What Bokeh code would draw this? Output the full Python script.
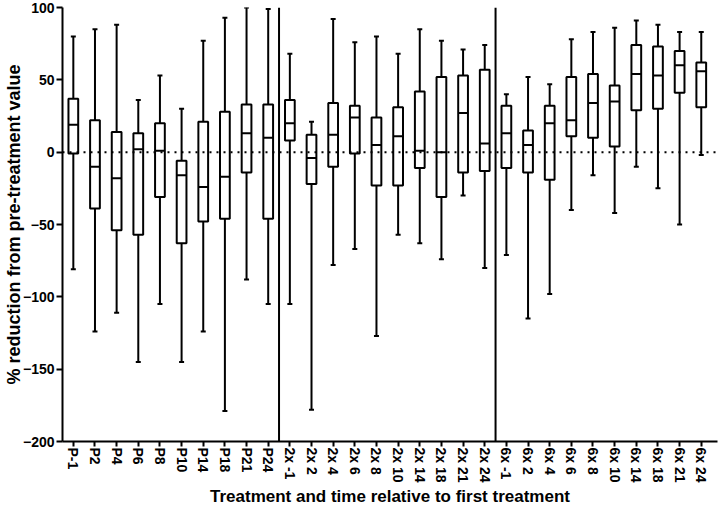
from bokeh.plotting import figure
from bokeh.models import Range1d, FixedTicker, Span, ColumnDataSource
from bokeh.embed import file_html
from bokeh.resources import INLINE

categories = ["P-1", "P2", "P4", "P6", "P8", "P10", "P14", "P18", "P21", "P24",
              "2x -1", "2x 2", "2x 4", "2x 6", "2x 8", "2x 10", "2x 14", "2x 18", "2x 21", "2x 24",
              "6x -1", "6x 2", "6x 4", "6x 6", "6x 8", "6x 10", "6x 14", "6x 18", "6x 21", "6x 24"]
group_sizes = [10, 10, 10]

whisker_high = [80, 85, 88, 36, 53, 30, 77, 93, 100, 99,
                68, 21, 92, 76, 80, 68, 85, 77, 71, 74,
                40, 52, 47, 78, 83, 86, 91, 88, 83, 83]
quartile3 = [37, 22, 14, 13, 20, -6, 21, 28, 33, 33,
             36, 12, 34, 32, 24, 31, 42, 52, 53, 57,
             32, 15, 32, 52, 54, 46, 74, 73, 70, 62]
medians = [19, -10, -18, 2, 1, -16, -24, -17, 13, 10,
           20, -4, 12, 24, 5, 11, 1, 0, 27, 6,
           13, 5, 20, 22, 34, 35, 54, 53, 60, 56]
quartile1 = [-1, -39, -54, -57, -31, -63, -48, -46, -14, -46,
             8, -22, -10, -1, -23, -23, -11, -31, -14, -13,
             -11, -14, -19, 11, 10, 4, 29, 30, 41, 31]
whisker_low = [-81, -124, -111, -145, -105, -145, -124, -179, -88, -105,
               -105, -178, -78, -67, -127, -57, -63, -74, -30, -80,
               -71, -115, -98, -40, -16, -42, -10, -25, -50, -2]
y_ticks = [-200, -150, -100, -50, 0, 50, 100]

FONT = "Liberation Sans"
xs = list(range(len(categories)))
src = ColumnDataSource(dict(x=xs, hi=whisker_high, q3=quartile3, med=medians,
                            q1=quartile1, lo=whisker_low))

p = figure(width=719, height=508, output_backend="svg", toolbar_location=None,
           x_range=Range1d(-0.5, len(categories) - 0.25),
           y_range=Range1d(y_ticks[0], y_ticks[-1]),
           min_border_left=50, min_border_right=2, min_border_top=7, min_border_bottom=50)
p.outline_line_color = None
p.grid.visible = False
p.background_fill_color = "white"

p.segment(x0="x", y0="lo", x1="x", y1="hi", source=src, line_color="black", line_width=2)
p.vbar(x="x", width=0.45, top="q3", bottom="q1", source=src,
       fill_color="white", line_color="black", line_width=2)
p.scatter(x="x", y="med", marker="dash", size=10, source=src, line_color="black", line_width=2)
p.scatter(x="x", y="hi", marker="dash", size=5, source=src, line_color="black", line_width=2)
p.scatter(x="x", y="lo", marker="dash", size=5, source=src, line_color="black", line_width=2)

p.add_layout(Span(location=0, dimension="width", line_color="black",
                  line_width=2, line_dash="2 5"))
pos = -0.5
for g in group_sizes[:-1]:
    pos += g
    p.add_layout(Span(location=pos, dimension="height", line_color="black", line_width=2))

# axes
p.xaxis.ticker = FixedTicker(ticks=xs)
p.xaxis.major_label_overrides = {i: c for i, c in enumerate(categories)}
p.xaxis.major_label_orientation = "vertical"
p.xaxis.axis_label = "Treatment and time relative to first treatment"
p.yaxis.ticker = FixedTicker(ticks=y_ticks)
p.yaxis.axis_label = "% reduction from pre-treatment value"

for ax in (p.xaxis, p.yaxis):
    ax.axis_line_width = 2
    ax.axis_line_color = "black"
    ax.major_tick_line_width = 2
    ax.major_tick_line_color = "black"
    ax.major_tick_out = 6
    ax.major_tick_in = 0
    ax.minor_tick_line_color = None
    ax.major_label_text_font = FONT
    ax.major_label_text_font_style = "bold"
    ax.major_label_text_color = "black"
    ax.axis_label_text_font = FONT
    ax.axis_label_text_font_style = "bold"
    ax.axis_label_text_color = "black"

p.xaxis.major_label_text_font_size = "14px"
p.yaxis.major_label_text_font_size = "14px"
p.xaxis.axis_label_text_font_size = "17px"
p.yaxis.axis_label_text_font_size = "18px"
p.xaxis.major_tick_out = 5
p.xaxis.major_label_standoff = 1
p.yaxis.major_label_standoff = 2
p.xaxis.axis_label_standoff = 1
p.yaxis.axis_label_standoff = -4

open("out.html", "w").write(file_html(p, INLINE))
